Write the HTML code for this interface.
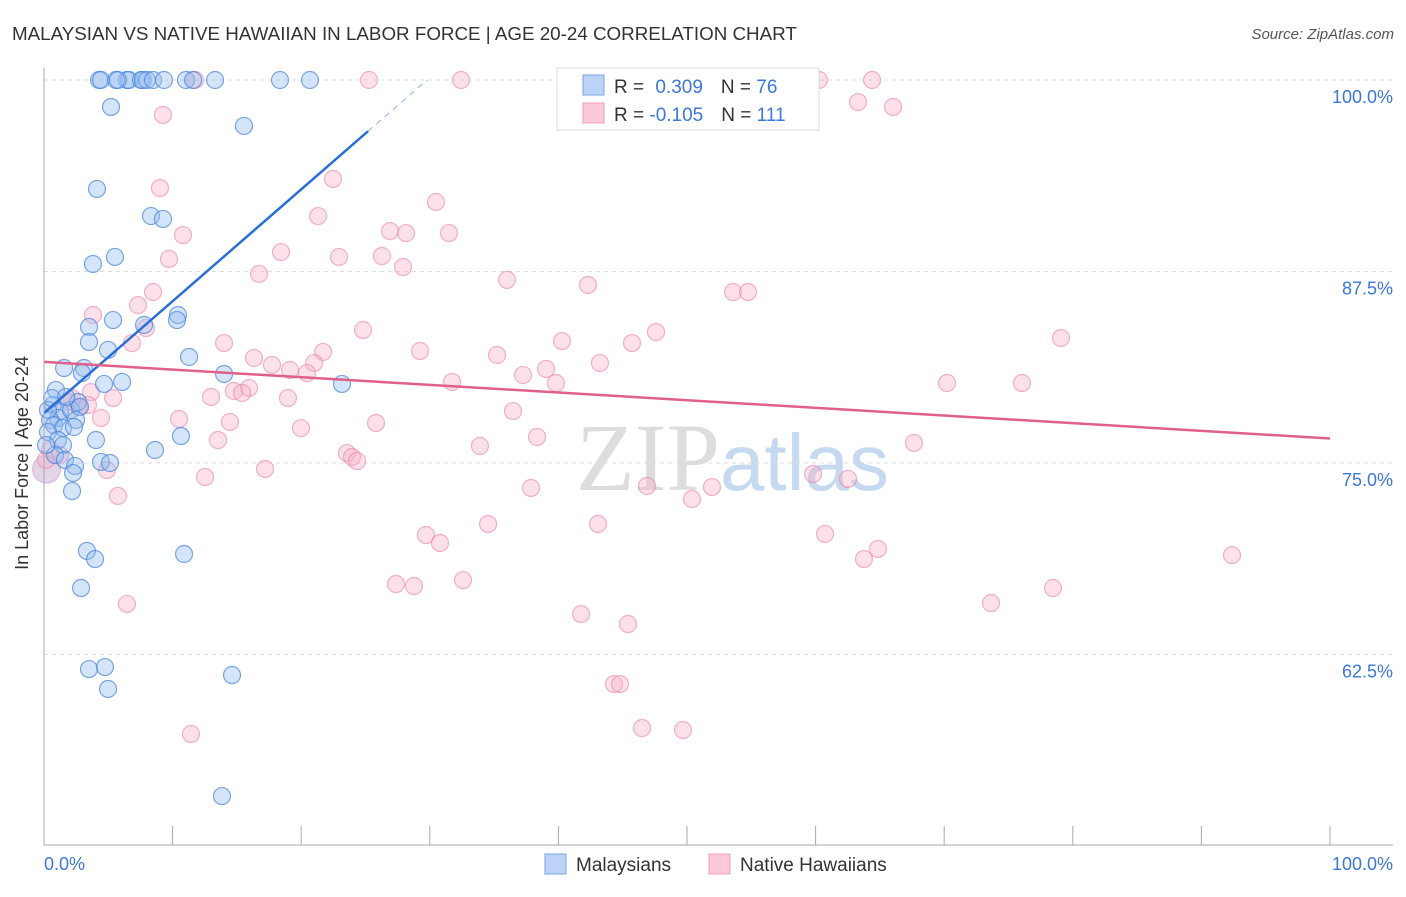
<!DOCTYPE html>
<html><head><meta charset="utf-8"><style>
body{margin:0;background:#fff;font-family:"Liberation Sans",sans-serif;}
</style></head><body>
<svg id="c" width="1406" height="892" xmlns="http://www.w3.org/2000/svg">
<text x="12" y="40" font-size="18.8" fill="#333">MALAYSIAN VS NATIVE HAWAIIAN IN LABOR FORCE | AGE 20-24 CORRELATION CHART</text>
<text x="1394" y="39" font-size="15" fill="#555" font-style="italic" text-anchor="end">Source: ZipAtlas.com</text>
<text x="720" y="490" font-size="96" font-family="Liberation Serif" fill="#ddd" text-anchor="end">ZIP</text>
<text x="720" y="490" font-size="80" fill="#c5d9f1">atlas</text>
<g id="grid"></g><g id="pts"></g><g id="trend"></g>
<line x1="44" y1="68" x2="44" y2="845" stroke="#aaa"/>
<line x1="44" y1="845" x2="1393" y2="845" stroke="#aaa"/>
<text x="22" y="457" font-size="18" fill="#333" text-anchor="middle" transform="rotate(-90 28 457)">In Labor Force | Age 20-24</text>
<text x="44" y="870" font-size="18" fill="#3b78d8">0.0%</text>
<text x="1393" y="870" font-size="18" fill="#3b78d8" text-anchor="end">100.0%</text>
<g>
<rect x="557" y="68" width="262" height="62" fill="#fff" stroke="#ddd"/>
<rect x="583" y="75" width="21" height="20" fill="#bcd3f5" stroke="#7aa5e8"/>
<rect x="583" y="103" width="21" height="20" fill="#fcc9d8" stroke="#f0a0b8"/>
<text x="614" y="93" font-size="19" fill="#333">R = <tspan fill="#3b78d8" dx="6">0.309</tspan><tspan dx="18" fill="#333">N = </tspan><tspan fill="#3b78d8">76</tspan></text>
<text x="614" y="121" font-size="19" fill="#333">R = <tspan fill="#3b78d8">-0.105</tspan><tspan dx="18" fill="#333">N = </tspan><tspan fill="#3b78d8">111</tspan></text>
</g>
<g>
<rect x="545" y="854" width="21" height="20" fill="#bcd3f5" stroke="#7aa5e8"/>
<text x="576" y="871" font-size="19" fill="#333">Malaysians</text>
<rect x="709" y="854" width="21" height="20" fill="#fcc9d8" stroke="#f0a0b8"/>
<text x="740" y="871" font-size="19" fill="#333">Native Hawaiians</text>
</g>
</svg>
<script>
const yTicks=[100,87.5,75,62.5];
const yTickLabels=["100.0%","87.5%","75.0%","62.5%"];
const xTicks=[10,20,30,40,50,60,70,80,90,100];
const bluePx=[[99,80],[101,80],[127,80],[129,80],[116,80],[118,80],[141,80],[143,80],[147,80],[153,80],[164,80],[186,80],[193,80],[215,80],[280,80],[310,80],[111,107],[244,126],[97,189],[151,216],[163,219],[93,264],[115,257],[89,327],[113,320],[178,315],[177,320],[144,325],[89,342],[108,350],[189,357],[64,368],[84,368],[82,373],[122,382],[104,384],[224,374],[342,384],[56,390],[53,405],[60,411],[58,418],[71,410],[78,402],[80,407],[50,420],[54,425],[63,428],[76,420],[74,427],[48,432],[58,440],[63,445],[96,440],[181,436],[155,450],[55,455],[65,460],[101,462],[110,463],[75,466],[73,473],[72,491],[87,551],[95,559],[184,554],[81,588],[89,669],[105,667],[108,689],[232,675],[222,796],[48,410],[52,398],[66,397],[46,445]];
const pinkPx=[[195,80],[369,80],[461,80],[819,80],[872,80],[163,115],[858,102],[893,107],[333,179],[160,188],[318,216],[436,202],[183,235],[390,231],[406,233],[449,233],[169,259],[281,252],[339,257],[382,256],[403,267],[259,274],[507,280],[588,285],[733,292],[748,292],[153,292],[138,305],[93,315],[363,330],[656,332],[1061,338],[146,328],[132,343],[224,343],[562,341],[632,343],[420,351],[497,355],[323,352],[254,358],[600,363],[546,369],[314,363],[272,365],[290,370],[307,373],[523,375],[452,382],[556,383],[947,383],[1022,383],[249,388],[234,391],[242,393],[211,397],[113,398],[288,398],[91,392],[88,405],[79,407],[68,402],[72,398],[101,418],[179,419],[230,422],[376,423],[513,411],[301,428],[537,437],[218,440],[480,446],[914,443],[347,453],[352,457],[357,461],[50,450],[60,455],[46,460],[107,470],[265,469],[205,477],[813,474],[848,479],[531,488],[647,486],[712,487],[692,499],[118,496],[488,524],[598,524],[426,535],[440,543],[825,534],[878,549],[864,559],[1232,555],[463,580],[396,584],[414,586],[1053,588],[127,604],[991,603],[581,614],[628,624],[614,684],[620,684],[191,734],[642,728],[683,730]];
const blueX=bluePx.map(p=>+((p[0]-44)/12.86).toFixed(2));
const blueY=bluePx.map(p=>+(100-(p[1]-80)/15.32).toFixed(2));
const pinkX=pinkPx.map(p=>+((p[0]-44)/12.86).toFixed(2));
const pinkY=pinkPx.map(p=>+(100-(p[1]-80)/15.32).toFixed(2));
const blueTrend=[78.26,0.73];
const pinkTrend=[81.6,-0.05];
const NS="http://www.w3.org/2000/svg";
const X=v=>44+v*12.86, Y=v=>80+(100-v)*15.32;
function mk(t,a,par){const e=document.createElementNS(NS,t);for(const k in a)e.setAttribute(k,a[k]);document.getElementById(par).appendChild(e);return e;}
yTicks.forEach((t,i)=>{
 const l=mk('line',{x1:44,x2:1393,y1:Y(t),y2:Y(t),stroke:'#ddd','stroke-dasharray':'4,4'},'grid');
 
 
 const tx=mk('text',{x:1393,y:Y(t)+23,'font-size':18,fill:'#3b78d8','text-anchor':'end'},'grid');
 tx.textContent=yTickLabels[i];
 
 
});
xTicks.forEach(t=>{
 const l=mk('line',{x1:X(t),x2:X(t),y1:826,y2:845,stroke:'#aaa'},'grid');
 
 
});
const big=mk('circle',{cx:X(0.2),cy:Y(74.6),r:14,fill:'rgba(200,170,210,0.5)',stroke:'rgba(190,150,200,0.6)'},'pts');


pinkX.forEach((x,i)=>{
 const c=mk('circle',{cx:X(x),cy:Y(pinkY[i]),r:8.5,fill:'rgba(248,180,200,0.4)',stroke:'rgba(235,130,165,0.6)','stroke-width':1.2},'pts');
 
 
});
blueX.forEach((x,i)=>{
 const c=mk('circle',{cx:X(x),cy:Y(blueY[i]),r:8.5,fill:'rgba(150,190,240,0.4)',stroke:'rgba(70,130,220,0.7)','stroke-width':1.2},'pts');
 
 
});
const bEnd=25.2, bMax=(100-blueTrend[0])/blueTrend[1];
const b1=mk('line',{x1:X(0),y1:Y(blueTrend[0]),x2:X(bEnd),y2:Y(blueTrend[0]+blueTrend[1]*bEnd),stroke:'#2a6fd6','stroke-width':2.5},'trend');


const b2=mk('line',{x1:X(bEnd),y1:Y(blueTrend[0]+blueTrend[1]*bEnd),x2:X(bMax),y2:Y(100),stroke:'#8fb3e8','stroke-width':1,'stroke-dasharray':'6,5'},'trend');


const p1=mk('line',{x1:X(0),y1:Y(pinkTrend[0]),x2:X(100),y2:Y(pinkTrend[0]+pinkTrend[1]*100),stroke:'#e0608a','stroke-width':2.5},'trend');


</script>
</body></html>
